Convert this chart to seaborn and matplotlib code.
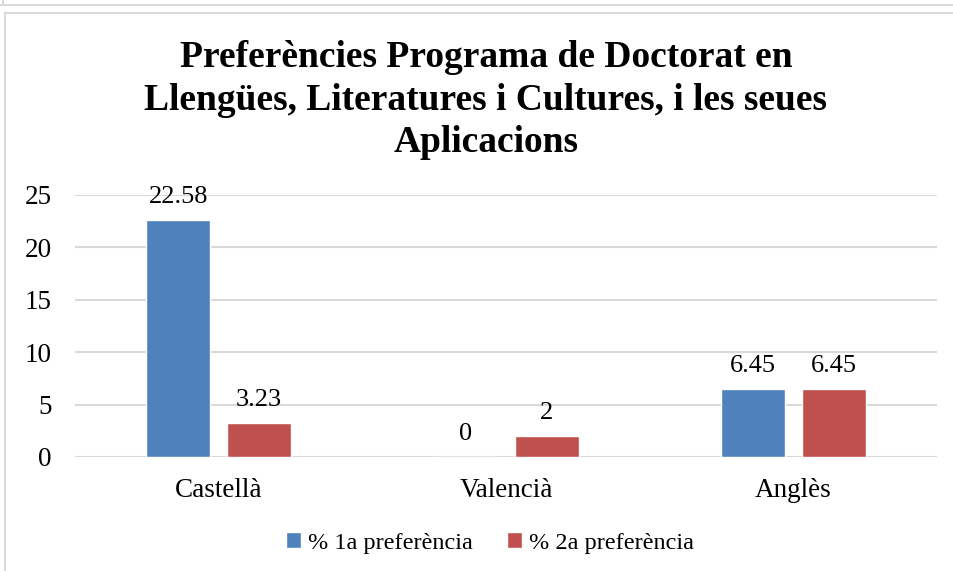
import matplotlib
matplotlib.use("Agg")
import matplotlib.pyplot as plt
import seaborn as sns
import pandas as pd
from matplotlib.lines import Line2D

# data
categories = ["Castellà", "Valencià", "Anglès"]
series_names = ["% 1a preferència", "% 2a preferència"]
pref1 = [22.58, 0, 6.45]
pref2 = [3.23, 2, 6.45]
colors = ["#4F81BD", "#C0504D"]

df = pd.DataFrame({
    "cat": categories * 2,
    "val": pref1 + pref2,
    "serie": [series_names[0]] * 3 + [series_names[1]] * 3,
})

sns.set_style("white")
plt.rcParams["font.family"] = ["Liberation Serif", "DejaVu Serif"]
plt.rcParams["text.color"] = "#000000"

fig = plt.figure(figsize=(9.54, 5.71), dpi=100)
ax = fig.add_axes([75 / 954, 1 - 457 / 571, (937 - 75) / 954, (457 - 195) / 571])

sns.barplot(data=df, x="cat", y="val", hue="serie", palette=colors,
            width=0.564, gap=0.21, ax=ax, saturation=1, legend=True)

for cont in ax.containers:
    ax.bar_label(cont, labels=[("%.2f" % v).rstrip("0").rstrip(".") if v != int(v) else str(int(v))
                               for v in cont.datavalues],
                 padding=9, fontsize=19, color="#000000")

ax.set_xlim(-0.5, 2.5)
ax.set_ylim(0, 25)
ax.set_yticks([0, 5, 10, 15, 20, 25])
ax.yaxis.grid(True, color="#D9D9D9", linewidth=1.5)
ax.set_axisbelow(True)
for s in ax.spines.values():
    s.set_visible(False)
ax.set_xlabel("")
ax.set_ylabel("")
ax.tick_params(axis="y", labelsize=19.5, pad=17, length=0, colors="#000000")
ax.tick_params(axis="x", labelsize=19.5, pad=15, length=0, colors="#000000")

h, l = ax.get_legend_handles_labels()
ax.legend(h, l, loc="center", bbox_to_anchor=(490 / 954, 1 - 543 / 571),
          bbox_transform=fig.transFigure, ncol=2, frameon=False, fontsize=17.5,
          handlelength=0.6, handleheight=0.6, handletextpad=0.3, columnspacing=1.4)

fig.text(486 / 954, 1 - 100 / 571,
         "Preferències Programa de Doctorat en\nLlengües, Literatures i Cultures, i les seues\nAplicacions",
         ha="center", va="center", fontsize=27, fontweight="bold", linespacing=1.28,
         color="#000000")

# chart frame lines
fig.add_artist(Line2D([0, 1], [1 - 4.5 / 571, 1 - 4.5 / 571], transform=fig.transFigure,
                      color="#D9D9D9", linewidth=1.5))
fig.add_artist(Line2D([3.5 / 954, 3.5 / 954], [1, 1 - 4.5 / 571], transform=fig.transFigure,
                      color="#D9D9D9", linewidth=1.5))
fig.add_artist(Line2D([5.5 / 954, 1], [1 - 12.5 / 571, 1 - 12.5 / 571], transform=fig.transFigure,
                      color="#D9D9D9", linewidth=1.5))
fig.add_artist(Line2D([5.5 / 954, 5.5 / 954], [0, 1 - 12.5 / 571], transform=fig.transFigure,
                      color="#D9D9D9", linewidth=1.5))

fig.savefig("out.png", dpi=100)
